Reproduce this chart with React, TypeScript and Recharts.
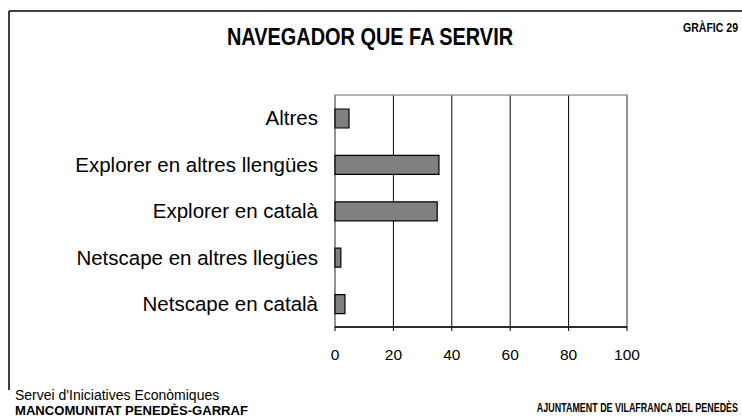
import React from 'react';
import { BarChart, Bar, XAxis, YAxis, ReferenceArea, CartesianGrid } from 'recharts';

const categories = [
  'Altres',
  'Explorer en altres llengües',
  'Explorer en català',
  'Netscape en altres llegües',
  'Netscape en català',
];
const values = [4.8, 35.6, 35, 2, 3.4];
const xTicks = [0, 20, 40, 60, 80, 100];
const boundaryTicks = [0, 1, 2, 3, 4, 5];

const title = 'NAVEGADOR QUE FA SERVIR';
const chartNumber = 'GRÀFIC 29';
const footerLeft1 = "Servei d'Iniciatives Econòmiques";
const footerLeft2 = 'MANCOMUNITAT PENEDÈS-GARRAF';
const footerRight = 'AJUNTAMENT DE VILAFRANCA DEL PENEDÈS';

const data = categories.map((name, i) => ({ name, value: values[i] }));

const sans = 'Arial, "Liberation Sans", sans-serif';

export default function App() {
  return (
    <div style={{ position: 'absolute', left: 0, top: 0, width: 742, height: 418, background: '#fff' }}>
      <BarChart
        width={742}
        height={418}
        data={data}
        layout="vertical"
        margin={{ top: 95, right: 115, bottom: 61, left: 0 }}
        barSize={19}
      >
        <CartesianGrid yAxisId="cat" horizontal={false} vertical={true} stroke="#000" strokeWidth={1} />
        <ReferenceArea yAxisId="cat" x1={0} x2={100} fill="none" stroke="#999" strokeWidth={1.5} ifOverflow="visible" />
        <XAxis
          type="number"
          domain={[0, 100]}
          ticks={xTicks}
          interval={0}
          axisLine={{ stroke: '#000', strokeWidth: 1.5 }}
          tickLine={{ stroke: '#000' }}
          tickSize={4}
          tickMargin={18}
          height={30}
          tick={{ fill: '#000', fontSize: 15.5, fontFamily: sans }}
        />
        <YAxis
          yAxisId="cat"
          type="category"
          dataKey="name"
          width={335}
          axisLine={false}
          tickLine={false}
          tickSize={0}
          tickMargin={17}
          tick={{ fill: '#000', fontSize: 20.5, fontFamily: sans }}
        />
        <YAxis
          yAxisId="num"
          type="number"
          domain={[0, 5]}
          ticks={boundaryTicks}
          interval={0}
          width={0}
          tick={false}
          tickSize={4}
          axisLine={{ stroke: '#000', strokeWidth: 1.5 }}
          tickLine={{ stroke: '#000' }}
        />
        <Bar yAxisId="cat" dataKey="value" fill="#808080" stroke="#000" strokeWidth={1.2} isAnimationActive={false} />
      </BarChart>
      <svg
        width={742}
        height={418}
        style={{ position: 'absolute', left: 0, top: 0, pointerEvents: 'none' }}
      >
        <line x1={9} y1={11} x2={742} y2={11} stroke="#000" strokeWidth={1.5} />
        <line x1={9} y1={11} x2={9} y2={390} stroke="#000" strokeWidth={1.5} />
        <g transform="translate(370,45) scale(0.866,1)">
          <text x={0} y={0} textAnchor="middle" fontFamily={sans} fontWeight="bold" fontSize={23} fill="#000">
            {title}
          </text>
        </g>
        <g transform="translate(738,32) scale(0.81,1)">
          <text x={0} y={0} textAnchor="end" fontFamily={sans} fontWeight="bold" fontSize={13} fill="#000">
            {chartNumber}
          </text>
        </g>
        <text x={15} y={400} fontFamily={sans} fontSize={14} fill="#000">
          {footerLeft1}
        </text>
        <text x={15} y={415} fontFamily={sans} fontWeight="bold" fontSize={13.1} fill="#000">
          {footerLeft2}
        </text>
        <g transform="translate(738,412) scale(0.714,1)">
          <text x={0} y={0} textAnchor="end" fontFamily={sans} fontWeight="bold" fontSize={12.5} fill="#000">
            {footerRight}
          </text>
        </g>
      </svg>
    </div>
  );
}
